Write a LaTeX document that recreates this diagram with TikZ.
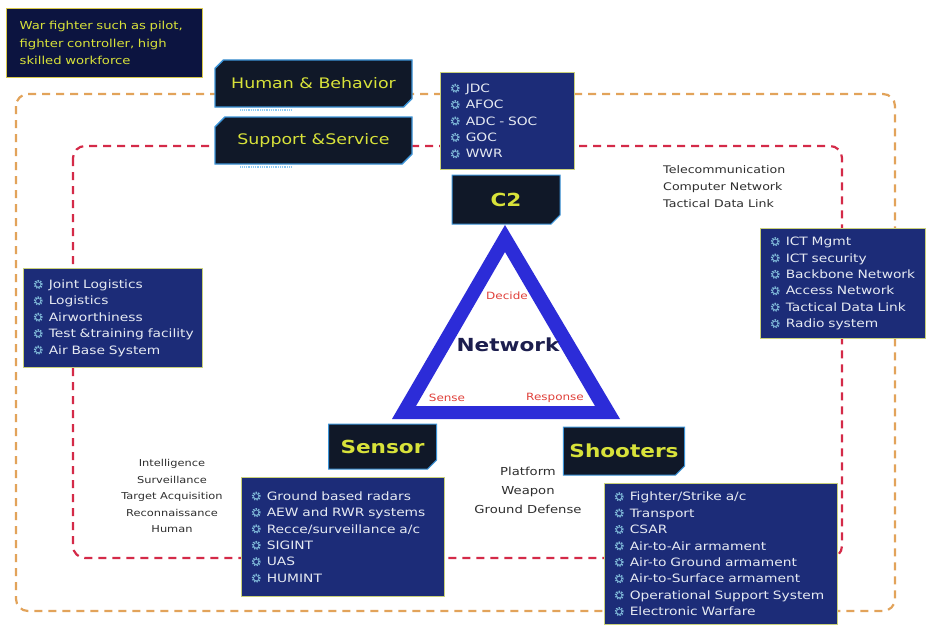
\documentclass[tikz,border=0pt]{standalone}
\usepackage{fontspec}
\newfontfamily\techfont{DejaVu Sans}[FakeStretch=1.2]
\usetikzlibrary{shapes.misc,positioning}
\definecolor{FrameOrange}{HTML}{E2A35A}
\definecolor{FrameRed}{HTML}{D42A48}
\definecolor{PanelNavy}{HTML}{1C2C78}
\definecolor{PanelEdge}{HTML}{C9D07A}
\definecolor{PanelText}{HTML}{E6EAF2}
\definecolor{NoteNavy}{HTML}{0C1440}
\definecolor{NoteEdge}{HTML}{D8C84A}
\definecolor{BannerFill}{HTML}{101828}
\definecolor{BannerEdge}{HTML}{3C94D8}
\definecolor{BannerGlow}{HTML}{8CC8F0}
\definecolor{BannerText}{HTML}{D8E23A}
\definecolor{CogBlue}{HTML}{7FB8D8}
\definecolor{TriBlue}{HTML}{2C2CD8}
\definecolor{PhaseRed}{HTML}{E0403A}
\definecolor{NetNavy}{HTML}{1C1E4E}
\definecolor{CaptionGray}{HTML}{2E2E2E}

\newcommand{\cogicon}{\tikz[baseline=-4pt]{%
  \draw[CogBlue,line width=1.9pt,dash pattern=on 1.3pt off 1.1pt] (0,0) circle (3.6pt);
  \draw[CogBlue,line width=0.6pt] (0,0) circle (2.6pt);}}
\newcommand{\cogitem}[1]{\mbox{\cogicon\hspace{6pt}#1}}

\begin{document}
\begin{tikzpicture}[x=1pt,y=-1pt,
    listbox/.style={
      draw=PanelEdge,
      line width=1.3pt,
      fill=PanelNavy,
      anchor=north west,
      align=left,
      inner xsep=10pt,
      inner ysep=0pt,
      text=PanelText,
      font=\techfont\fontsize{11.5}{16.4}\selectfont
    },
    note/.style={
      draw=NoteEdge,
      line width=1.3pt,
      fill=NoteNavy,
      anchor=north west,
      align=left,
      inner xsep=13pt,
      inner ysep=0pt,
      text=BannerText,
      font=\techfont\fontsize{11}{17.5}\selectfont
    },
    banner/.style={
      chamfered rectangle,
      chamfered rectangle corners={north west,south east},
      chamfered rectangle xsep=16pt,
      draw=BannerEdge,
      line width=1.4pt,
      fill=BannerFill,
      text=BannerText,
      inner sep=0pt,
      minimum width=197pt,
      minimum height=47pt,
      font=\techfont\fontsize{14.5}{16}\selectfont
    },
    tag/.style={
      chamfered rectangle,
      chamfered rectangle corners=south east,
      chamfered rectangle xsep=6pt,
      draw=BannerEdge,
      line width=1pt,
      fill=BannerFill,
      text=BannerText,
      inner sep=0pt,
      minimum width=108pt,
      font=\techfont\bfseries\fontsize{18}{20}\selectfont
    },
    glowbar/.style={
      BannerGlow,
      line width=2pt,
      dash pattern=on 1pt off 0.8pt
    },
    caption/.style={
      text=CaptionGray,
      align=center,
      inner sep=0pt
    },
    phase/.style={
      text=PhaseRed,
      inner sep=0pt,
      font=\techfont\fontsize{10}{12}\selectfont
    },
    zone/.style={
      draw=#1,
      line width=2.2pt,
      dash pattern=on 8pt off 6pt,
      rounded corners=12pt
    }
  ]

  \path[use as bounding box,fill=white] (0,0) rectangle (929,626);

  % Dashed domains
  \draw[zone=FrameOrange] (16,94) rectangle (895,611);
  \draw[zone=FrameRed] (73,146) rectangle (842,558);

  % Kill chain triangle
  \fill[TriBlue,even odd rule] (505,225) -- (392,419) -- (620,419) -- cycle
                               (505,252) -- (416,406) -- (595,406) -- cycle;
  \node[font=\techfont\bfseries\fontsize{18}{20}\selectfont,text=NetNavy] (net) at (508,345) {Network};
  \node[phase] (decide) at (507,296) {Decide};
  \node[phase] (sense) at (447,398) {Sense};
  \node[phase] (respond) at (555,398) {Response};

  % Banners
  \node[note,text width=170pt,minimum height=69pt] (crew) at (6,8)
    {\mbox{War fighter such as pilot,}\\\mbox{fighter controller, high}\\\mbox{skilled workforce}};
  \node[banner] (human) at (313.5,83.5) {Human \& Behavior};
  \node[banner] (support) at (313.5,140.5) {Support \&Service};
  \node[tag,minimum height=49pt] (c2) at (506,199.5) {C2};
  \node[tag,minimum height=45pt] (sensor) at (382.5,446.5) {Sensor};
  \node[tag,minimum height=48pt] (shooters) at (624,451) {Shooters};
  \draw[glowbar] ([xshift=26pt,yshift=-2.5pt]human.south west) -- ++(52,0);
  \draw[glowbar] ([xshift=26pt,yshift=-2.5pt]support.south west) -- ++(52,0);

  % Item panels
  \node[listbox,text width=114pt,minimum height=97pt] (c2list) at (440,72)
    {\cogitem{JDC}\\\cogitem{AFOC}\\\cogitem{ADC - SOC}\\\cogitem{GOC}\\\cogitem{WWR}};
  \node[listbox,text width=159pt,minimum height=99pt] (logistics) at (23,268)
    {\cogitem{Joint Logistics}\\\cogitem{Logistics}\\\cogitem{Airworthiness}\\
     \cogitem{Test \&training facility}\\\cogitem{Air Base System}};
  \node[listbox,text width=145pt,minimum height=110pt] (ict) at (760,228)
    {\cogitem{ICT Mgmt}\\\cogitem{ICT security}\\\cogitem{Backbone Network}\\
     \cogitem{Access Network}\\\cogitem{Tactical Data Link}\\\cogitem{Radio system}};
  \node[listbox,text width=183pt,minimum height=119pt] (sensorlist) at (241,477)
    {\cogitem{Ground based radars}\\\cogitem{AEW and RWR systems}\\\cogitem{Recce/surveillance a/c}\\
     \cogitem{SIGINT}\\\cogitem{UAS}\\\cogitem{HUMINT}};
  \node[listbox,text width=213pt,minimum height=141pt] (shooterlist) at (604,483)
    {\cogitem{Fighter/Strike a/c}\\\cogitem{Transport}\\\cogitem{CSAR}\\
     \cogitem{Air-to-Air armament}\\\cogitem{Air-to Ground armament}\\\cogitem{Air-to-Surface armament}\\
     \cogitem{Operational Support System}\\\cogitem{Electronic Warfare}};

  % Captions
  \node[caption,align=left,anchor=west,font=\techfont\fontsize{10.5}{17}\selectfont] (links) at (663,187)
    {Telecommunication\\Computer Network\\Tactical Data Link};
  \node[caption,font=\techfont\fontsize{9.5}{16.5}\selectfont] (isr) at (172,496)
    {Intelligence\\Surveillance\\Target Acquisition\\Reconnaissance\\Human};
  \node[caption,font=\techfont\fontsize{11}{19}\selectfont] (arms) at (528,490)
    {Platform\\Weapon\\Ground Defense};

\end{tikzpicture}
\end{document}
